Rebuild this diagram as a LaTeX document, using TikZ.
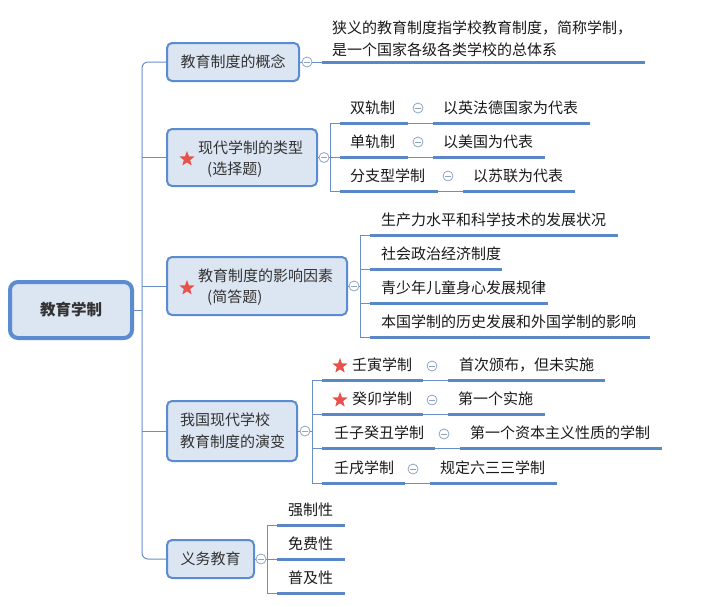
\documentclass[tikz,border=0pt]{standalone}
\usepackage{fontspec}
\setmainfont{Noto Sans CJK SC}
\usetikzlibrary{shapes.geometric}
\definecolor{boxc}{HTML}{5B8BD0}
\definecolor{fillc}{HTML}{DCE5F2}
\definecolor{linec}{HTML}{6A8FC8}
\definecolor{ulc}{HTML}{5A88C6}
\definecolor{togc}{HTML}{8FA4C4}
\definecolor{starred}{HTML}{E8524C}
\definecolor{boxtext}{HTML}{333333}
\definecolor{leaftext}{HTML}{1A1A1A}
\tikzset{
  topic/.style={draw=boxc, line width=2pt, fill=fillc, rounded corners=5pt, inner sep=0pt, text=boxtext, font=\fontsize{15}{22}\selectfont},
  rootbox/.style={draw=boxc, line width=4pt, fill=fillc, rounded corners=8pt, inner sep=0pt, text=boxtext, font=\fontsize{15.5}{18}\selectfont\bfseries},
  lbl/.style={inner sep=0pt, anchor=west, font=\fontsize{15}{22}\selectfont},
  leaf/.style={lbl, text=leaftext},
  conn/.style={draw=linec, line width=1pt},
  ul/.style={draw=ulc, line width=3pt},
  tog/.style={circle, draw=togc, line width=0.8pt, fill=white, minimum size=10pt, inner sep=0pt,
    path picture={\draw[togc, line width=0.8pt] ([xshift=-2.6pt]path picture bounding box.center) -- ([xshift=2.6pt]path picture bounding box.center);}},
  redstar/.style={star, star points=5, star point ratio=2.4, fill=starred, minimum size=16pt, inner sep=0pt}
}
% name, thick start x, thick end x, underline y, text x, text
\newcommand\myleaf[6]{%
  \coordinate (#1s) at (#2,-#4);
  \coordinate (#1e) at (#3,-#4);
  \node[leaf] (#1) at (#5,-#4+15) {#6};
  \draw[ul] (#1s) -- (#1e);}
\begin{document}
\begin{tikzpicture}[x=1pt,y=1pt]
\useasboundingbox (0,0) rectangle (703,-606);
\fill[white] (0,0) rectangle (703,-606);

% root and level-1 topics
\node[rootbox, minimum width=122pt, minimum height=56pt] (root) at (71,-310) {教育学制};
\node[topic, minimum width=132pt, minimum height=38pt] (c1) at (233,-62) {教育制度的概念};
\node[topic, minimum width=150pt, minimum height=57pt] (c2) at (242,-157.5) {};
\node[topic, minimum width=180pt, minimum height=58pt] (c3) at (257,-286) {};
\node[topic, minimum width=130pt, minimum height=60pt] (c4) at (232,-431) {};
\node[topic, minimum width=87pt, minimum height=38pt] (c5) at (210.5,-559) {义务教育};

\node[redstar] (s2) at (187,-159) {};
\node[lbl, text=boxtext] (c2a) at (198,-148) {现代学制的类型};
\node[lbl, text=boxtext] (c2b) at (207,-170) {(选择题)};
\node[redstar] (s3) at (187,-288) {};
\node[lbl, text=boxtext] (c3a) at (198,-276) {教育制度的影响因素};
\node[lbl, text=boxtext] (c3b) at (207,-298) {(简答题)};
\node[lbl, text=boxtext] (c4a) at (180,-420) {我国现代学校};
\node[lbl, text=boxtext] (c4b) at (180,-442) {教育制度的演变};

% spine
\coordinate (sp) at (142,-310);
\draw[conn] (root.east) -- (sp);
\draw[conn, rounded corners=6pt] (c1.west) -| (sp) |- (c5.west);
\draw[conn] (c2.west) -- (142,-157.5);
\draw[conn] (c3.west) -- (142,-286);
\draw[conn] (c4.west) -- (142,-431);

% ---- concept
\node[tog] (t1) at (307,-62) {};
\draw[conn] (c1.east) -- (t1);
\coordinate (k1s) at (322,-62);
\coordinate (k1e) at (645,-62);
\draw[conn] (t1) -- (k1s);
\draw[ul] (k1s) -- (k1e);
\node[leaf, align=left] (k1) at (332,-39) {狭义的教育制度指学校教育制度，简称学制，\\是一个国家各级各类学校的总体系};

% ---- types
\node[tog] (t2) at (324,-157.5) {};
\draw[conn] (c2.east) -- (t2);
\coordinate (v2) at (330,-157.5);
\draw[conn] (t2) -- (v2);
\myleaf{a1}{340}{408}{123}{350}{双轨制}
\myleaf{a2}{340}{408}{157}{350}{单轨制}
\myleaf{a3}{340}{438}{191}{350}{分支型学制}
\draw[conn] (a1s) -- (330,-123) -- (330,-191) -- (a3s);
\draw[conn] (330,-157) -- (a2s);
\myleaf{a1x}{433}{590}{123}{443}{以英法德国家为代表}
\myleaf{a2x}{433}{545}{157}{443}{以美国为代表}
\myleaf{a3x}{463}{575}{191}{473}{以苏联为代表}
\draw[conn] (a1e) -- (a1xs);
\draw[conn] (a2e) -- (a2xs);
\draw[conn] (a3e) -- (a3xs);
\node[tog] (ta1) at (418,-108) {};
\node[tog] (ta2) at (418,-142) {};
\node[tog] (ta3) at (448,-176) {};

% ---- factors
\node[tog] (t3) at (354,-286) {};
\draw[conn] (c3.east) -- (t3);
\draw[conn] (t3) -- (360,-286);
\myleaf{b1}{370}{618}{235}{381}{生产力水平和科学技术的发展状况}
\myleaf{b2}{370}{502}{269}{381}{社会政治经济制度}
\myleaf{b3}{370}{548}{303}{381}{青少年儿童身心发展规律}
\myleaf{b4}{370}{650}{337}{381}{本国学制的历史发展和外国学制的影响}
\draw[conn] (b1s) -- (360,-235) -- (360,-337) -- (b4s);
\draw[conn] (360,-269) -- (b2s);
\draw[conn] (360,-303) -- (b3s);

% ---- evolution
\node[tog] (t4) at (305,-431) {};
\draw[conn] (c4.east) -- (t4);
\draw[conn] (t4) -- (312,-431);
\myleaf{d1}{322}{423}{380}{352}{壬寅学制}
\myleaf{d2}{322}{423}{414}{352}{癸卯学制}
\myleaf{d3}{322}{435}{448}{334}{壬子癸丑学制}
\myleaf{d4}{322}{405}{483}{334}{壬戌学制}
\node[redstar] (sd1) at (340,-366) {};
\node[redstar] (sd2) at (340,-400) {};
\draw[conn] (d1s) -- (312,-380) -- (312,-483) -- (d4s);
\draw[conn] (312,-414) -- (d2s);
\draw[conn] (312,-448) -- (d3s);
\myleaf{d1x}{448}{605}{380}{459}{首次颁布，但未实施}
\myleaf{d2x}{448}{545}{414}{458}{第一个实施}
\myleaf{d3x}{460}{662}{448}{470}{第一个资本主义性质的学制}
\myleaf{d4x}{430}{557}{483}{440}{规定六三三学制}
\draw[conn] (d1e) -- (d1xs);
\draw[conn] (d2e) -- (d2xs);
\draw[conn] (d3e) -- (d3xs);
\draw[conn] (d4e) -- (d4xs);
\node[tog] (td1) at (432,-366) {};
\node[tog] (td2) at (432,-400) {};
\node[tog] (td3) at (444,-434) {};
\node[tog] (td4) at (413,-469) {};

% ---- compulsory
\node[tog] (t5) at (261,-559) {};
\draw[conn] (c5.east) -- (t5);
\draw[conn] (t5) -- (267,-559);
\myleaf{e1}{277}{345}{525}{288}{强制性}
\myleaf{e2}{277}{345}{559}{288}{免费性}
\myleaf{e3}{277}{345}{593}{288}{普及性}
\draw[conn] (e1s) -- (267,-525) -- (267,-593) -- (e3s);
\draw[conn] (267,-559) -- (e2s);
\end{tikzpicture}
\end{document}
